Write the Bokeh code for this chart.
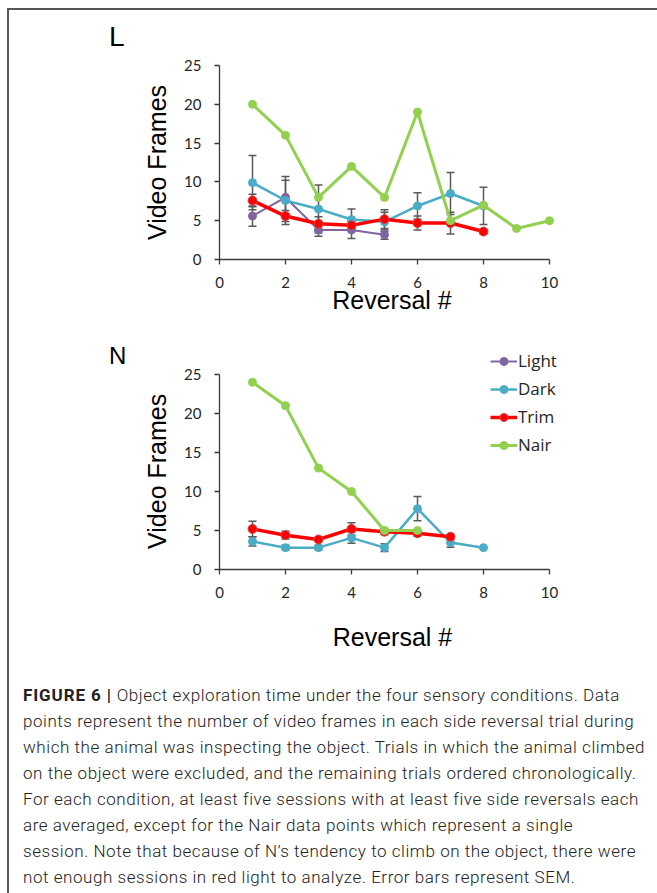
from bokeh.plotting import figure
from bokeh.models import ColumnDataSource, Whisker, TeeHead, Legend, LegendItem, Div, FixedTicker
from bokeh.layouts import column, row
from bokeh.embed import file_html
from bokeh.resources import INLINE

NAN = float("nan")

# ---------------- data ----------------
# Panel L
L_light_x = [1, 2, 3, 4, 5]
L_light_y = [5.6, 8.0, 3.8, 3.8, 3.2]
L_light_err = [1.3, 2.2, 0.8, 1.1, 0.6]

L_dark_x = [1, 2, 3, 4, 5, 6, 7, 8]
L_dark_y = [9.9, 7.6, 6.5, 5.15, 4.85, 6.9, 8.5, 6.9]
L_dark_err = [3.5, 3.1, 3.1, 1.35, 1.25, 1.7, 2.7, 2.4]

L_trim_x = [1, 2, 3, 4, 5, 6, 7, 8]
L_trim_y = [7.6, 5.6, 4.6, 4.4, 5.2, 4.7, 4.7, 3.6]
L_trim_err = [0.8, 0.7, 0.9, 0.5, 1.2, 0.9, 1.4, 0.3]

L_nair_x = [1, 2, 3, 4, 5, 6, 7, 8, 9, 10]
L_nair_y = [20, 16, 8, 12, 8, 19, 5, 7, 4, 5]

# Panel N  (no Light sessions for N: the series is missing)
N_light_x = [NAN]
N_light_y = [NAN]

N_dark_x = [1, 2, 3, 4, 5, 6, 7, 8]
N_dark_y = [3.6, 2.8, 2.8, 4.05, 2.8, 7.8, 3.45, 2.8]
N_dark_err = [0.6, 0.3, 0.3, 0.7, 0.5, 1.55, 0.6, 0.0]

N_trim_x = [1, 2, 3, 4, 5, 6, 7]
N_trim_y = [5.2, 4.4, 3.85, 5.2, 4.85, 4.65, 4.2]
N_trim_err = [1.0, 0.5, 0.2, 0.8, 0.4, 0.4, 0.3]

N_nair_x = [1, 2, 3, 4, 5, 6]
N_nair_y = [24, 21, 13, 10, 5, 5]

x_ticks = [0, 2, 4, 6, 8, 10]
y_ticks = [0, 5, 10, 15, 20, 25]
x_bounds = (0, 10)
y_bounds = (0, 25)
series_names = ["Light", "Dark", "Trim", "Nair"]
panel_names = ["L", "N"]
y_title = "Video Frames"
x_title = "Reversal #"

# ---------------- styles ----------------
C_LIGHT = "#8064A2"
C_DARK = "#4BACC6"
C_TRIM = "#FF0000"
C_NAIR = "#92D050"
C_ERR = "#5a5a5a"
TICK_FONT = "Lato"
LEGEND_FONT = "Open Sans"
TITLE_FONT = "Liberation Sans"
PX_X = 33.0     # pixels per x unit
PX_Y = 7.8      # pixels per y unit


def style_axes(p, xlab_standoff, ylab):
    for ax in (p.xaxis[0], p.yaxis[0]):
        ax.axis_line_color = "#3a3a3a"
        ax.axis_line_width = 1.3
        ax.major_tick_line_color = "#3a3a3a"
        ax.major_tick_line_width = 1.3
        ax.major_tick_out = 5
        ax.major_tick_in = 0
        ax.minor_tick_line_color = None
        ax.major_label_text_font = TICK_FONT
        ax.major_label_text_font_size = "15px"
        ax.major_label_text_color = "#262626"
        ax.axis_label_text_font = TITLE_FONT
        ax.axis_label_text_font_size = "25px"
        ax.axis_label_text_font_style = "normal"
        ax.axis_label_text_color = "#000000"
    p.xaxis[0].ticker = FixedTicker(ticks=x_ticks)
    p.yaxis[0].ticker = FixedTicker(ticks=y_ticks)
    p.xaxis[0].bounds = x_bounds
    p.yaxis[0].bounds = y_bounds
    p.xaxis[0].major_label_standoff = 12
    p.yaxis[0].major_label_standoff = 13
    p.xaxis[0].axis_label = x_title
    p.yaxis[0].axis_label = ylab
    p.xaxis[0].axis_label_standoff = xlab_standoff
    p.yaxis[0].axis_label_standoff = 10
    p.xgrid.grid_line_color = None
    p.ygrid.grid_line_color = None
    p.outline_line_color = None


def make_fig(height, top, bottom, right):
    fw = 518 - 80 - right
    fh = height - top - bottom
    p = figure(width=518, height=height,
               x_range=(0, max(10.0, fw / PX_X)), y_range=(0, max(25.0, fh / PX_Y)),
               output_backend="svg", toolbar_location=None,
               min_border_left=80, min_border_right=right,
               min_border_top=top, min_border_bottom=bottom,
               background_fill_color="white", border_fill_color="white")
    return p


def add_series(p, xs, ys, errs, color, lw, size, mline=None):
    src = ColumnDataSource(dict(x=xs, y=ys,
                                up=[a + b for a, b in zip(ys, errs)] if errs else ys,
                                lo=[a - b for a, b in zip(ys, errs)] if errs else ys))
    if errs:
        w = Whisker(base="x", upper="up", lower="lo", source=src,
                    line_color=C_ERR, line_width=1.5, level="underlay",
                    upper_head=TeeHead(size=8, line_color=C_ERR, line_width=1.5),
                    lower_head=TeeHead(size=8, line_color=C_ERR, line_width=1.5))
        p.add_layout(w)
    r1 = p.line("x", "y", source=src, line_color=color, line_width=lw)
    r2 = p.scatter("x", "y", source=src, size=size, fill_color=color,
                   line_color=mline or color, line_width=1)
    return [r1, r2]


def label_div(text, size, height, pad_top, pad_left, lh):
    return Div(text=text, width=130, height=height, margin=(0, 0, 0, 0),
               styles={"font-family": TITLE_FONT, "font-size": size, "line-height": lh,
                       "color": "#000000", "padding-top": pad_top, "padding-left": pad_left,
                       "box-sizing": "border-box"})


# ---------------- panel L ----------------
p1 = make_fig(320, 55, 71, 93)
style_axes(p1, -5, y_title)
add_series(p1, L_light_x, L_light_y, L_light_err, C_LIGHT, 2, 8)
add_series(p1, L_dark_x, L_dark_y, L_dark_err, C_DARK, 2.5, 8)
add_series(p1, L_trim_x, L_trim_y, L_trim_err, C_TRIM, 3.5, 9, "#C0504D")
add_series(p1, L_nair_x, L_nair_y, None, C_NAIR, 3, 8)
d1 = label_div(panel_names[0], "28px", 320, "11px", "100px", "32px")

# ---------------- panel N ----------------
# frame extended above 25 so the legend is not clipped; the axes stop at 25 and 10 (bounds).
# Non-breaking spaces keep the rotated title centred on the 0-25 axis rather than the taller frame.
p2 = make_fig(330, 8, 91, 92)
style_axes(p2, 22, y_title + "\u00a0" * 5)
rl = add_series(p2, N_light_x, N_light_y, None, C_LIGHT, 2, 8)
rd = add_series(p2, N_dark_x, N_dark_y, N_dark_err, C_DARK, 2.5, 8)
rt = add_series(p2, N_trim_x, N_trim_y, N_trim_err, C_TRIM, 3.5, 9, "#C0504D")
rn = add_series(p2, N_nair_x, N_nair_y, None, C_NAIR, 3, 8)
d2 = label_div(panel_names[1], "24px", 330, "12px", "100px", "28px")

legend = Legend(items=[LegendItem(label=n, renderers=r) for n, r in zip(series_names, [rl, rd, rt, rn])],
                location=(271, 113), orientation="vertical",
                label_text_font=LEGEND_FONT, label_text_font_size="17px", label_text_color="#262626",
                glyph_width=27, glyph_height=20, label_height=20, label_standoff=1, spacing=5,
                padding=0, margin=0, border_line_color=None, background_fill_alpha=0)
p2.add_layout(legend, "center")

# ---------------- caption ----------------
caption_lines = [
    "<b style='font-weight:700;letter-spacing:0.9px'>FIGURE 6 |</b> Object exploration time under the four sensory conditions. Data",
    "points represent the number of video frames in each side reversal trial during",
    "which the animal was inspecting the object. Trials in which the animal climbed",
    "on the object were excluded, and the remaining trials ordered chronologically.",
    "For each condition, at least five sessions with at least five side reversals each",
    "are averaged, except for the Nair data points which represent a single",
    "session. Note that because of N\u2019s tendency to climb on the object, there were",
    "not enough sessions in red light to analyze. Error bars represent SEM.",
]
cap = Div(text="<br>".join(caption_lines), width=638, height=223,
          styles={"font-family": "Roboto", "font-weight": "300", "font-size": "17px",
                  "letter-spacing": "0.55px",
                  "line-height": "26px", "color": "#222222", "white-space": "nowrap",
                  "padding-left": "9px", "padding-top": "17px", "box-sizing": "border-box"})

layout = column(row(d1, p1, spacing=0), row(d2, p2, spacing=0), cap, spacing=0,
                styles={"margin-top": "8px", "margin-left": "7px",
                        "border-top": "2px solid #555555", "border-left": "2px solid #555555"})

open("out.html", "w").write(file_html(layout, INLINE))
